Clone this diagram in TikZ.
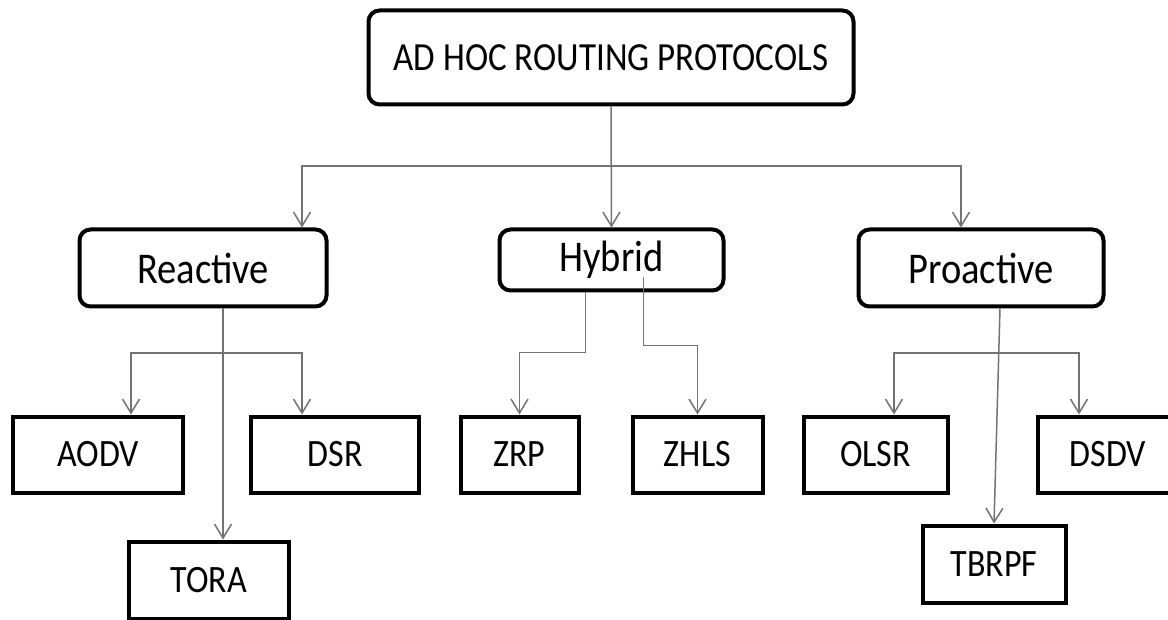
\documentclass[tikz,border=0pt]{standalone}
\usepackage{fontspec}
\setmainfont{Carlito}
\usetikzlibrary{arrows.meta, positioning, calc}
\newcommand{\tall}[1]{\scalebox{1}[1.14]{#1}}

\begin{document}
\begin{tikzpicture}[x=1pt, y=-1pt, >={Straight Barb[length=14pt,width=17pt]},
  cat/.style={draw, rounded corners=11pt, line width=4pt, align=center, inner sep=0pt, font=\fontsize{38.5}{46}\selectfont},
  leaf/.style={draw, line width=4pt, inner sep=0pt, minimum height=76pt, font=\fontsize{34}{40}\selectfont},
  link/.style={draw=black!55, line width=1.5pt}]
\path[use as bounding box, clip] (0,0) rectangle (1168,620);
% levels 0 and 1
\node[cat, minimum width=485pt, minimum height=94pt, font=\fontsize{35}{42}\selectfont] (root) at (611,57.5) {\tall{AD HOC ROUTING PROTOCOLS}};
\node[cat, minimum width=247pt, minimum height=77pt] (reac) at (203,268) {\tall{Reactive}};
\node[cat, minimum width=224pt, minimum height=61pt] (hyb) at (611.5,260) {\tall{Hybrid}};
\node[cat, minimum width=245pt, minimum height=77pt] (proa) at (981,268) {\tall{Proactive}};
% protocols
\node[leaf, minimum width=170pt] (aodv) at (98,454.5) {\tall{AODV}};
\node[leaf, minimum width=168pt] (dsr) at (335,454.5) {\tall{DSR}};
\node[leaf, minimum width=160pt, minimum height=77pt] (tora) at (209,580) {\tall{TORA}};
\node[leaf, minimum width=118pt] (zrp) at (519.5,454.5) {\tall{ZRP}};
\node[leaf, minimum width=130pt] (zhls) at (697.5,454.5) {\tall{ZHLS}};
\node[leaf, minimum width=144pt] (olsr) at (875.5,454.5) {\tall{OLSR}};
\node[leaf, minimum width=140pt] (dsdv) at (1108,454.5) {\tall{DSDV}};
\node[leaf, minimum width=143pt, minimum height=77pt] (tbrpf) at (994,564) {\tall{TBRPF}};
% connectors
\coordinate (rj) at (302,166);
\coordinate (pj) at (961,166);
\draw[link, ->] (root.south) -- (hyb.north);
\draw[link, <->] (rj |- reac.north) -- (rj) -- (pj) -- (pj |- proa.north);
\coordinate (ra) at (131,353);
\coordinate (rd) at (302,353);
\draw[link, <->] (ra |- aodv.north) -- (ra) -- (rd) -- (rd |- dsr.north);
\draw[link, ->] ([xshift=20pt]reac.south) coordinate (rs) -- (rs |- tora.north);
\draw[link, ->] ([xshift=-26pt]hyb.south) -- ++(0,60) -| (zrp.north);
\draw[link, ->] ([xshift=32pt,yshift=15pt]hyb.south) -- ++(0,68) -| (zhls.north);
\coordinate (pa) at (894,353);
\coordinate (pd) at (1079,353);
\draw[link, <->] (pa |- olsr.north) -- (pa) -- (pd) -- (pd |- dsdv.north);
\draw[link, ->] ([xshift=19pt]proa.south) -- (tbrpf.north);
\end{tikzpicture}
\end{document}
